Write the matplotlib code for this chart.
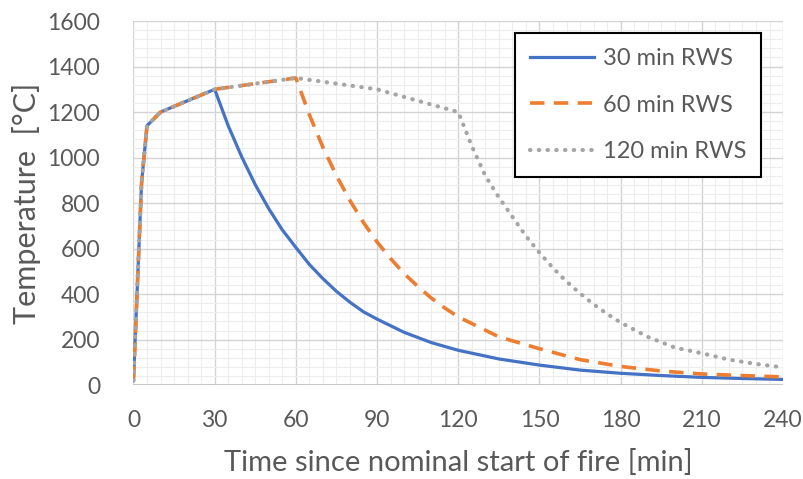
import matplotlib.pyplot as plt
from matplotlib.ticker import MultipleLocator
import numpy as np

plt.rcParams['font.family'] = ['Lato', 'DejaVu Sans']

# RWS heating curve (shared part)
t_heat = [0, 3, 5, 10, 30]
T_heat = [20, 890, 1140, 1200, 1300]

# 30 min RWS - cooling after 30 min
t30 = t_heat + [35, 40, 45, 50, 55, 60, 65, 70, 75, 80, 85, 90, 100, 110, 120,
                135, 150, 165, 180, 195, 210, 225, 240]
T30 = T_heat + [1140, 1003, 881, 775, 682, 605, 530, 468, 412, 364, 322, 290, 232, 187, 153,
                115, 88, 66, 52, 42, 34, 29, 25]

# 60 min RWS
t60 = t_heat + [60, 65, 70, 75, 80, 85, 90, 95, 100, 105, 110, 115, 120,
                135, 150, 165, 180, 195, 210, 225, 240]
T60 = T_heat + [1350, 1188, 1045, 920, 811, 714, 629, 556, 490, 434, 383, 339, 300,
                212, 160, 112, 82, 62, 49, 42, 36]

# 120 min RWS
t120 = t_heat + [60, 90, 120, 125, 130, 135, 140, 145, 150, 155, 160, 165, 170, 175, 180,
                 190, 200, 210, 220, 230, 240]
T120 = T_heat + [1350, 1300, 1200, 1050, 920, 825, 740, 655, 582, 515, 455, 403, 355, 313, 275,
                 212, 165, 140, 112, 93, 78]

fig = plt.figure(figsize=(8.04, 4.79), dpi=100)
ax = fig.add_axes([0.166, 0.196, 0.808, 0.760])

ax.plot(t30, T30, color='#4472C4', lw=2.3, label='30 min RWS', zorder=3)
ax.plot(t60, T60, color='#ED7D31', lw=2.6, ls=(0, (4, 2.6)), label='60 min RWS', zorder=4)
ax.plot(t120, T120, color='#A5A5A5', lw=3.0, ls=(0, (0.1, 2.0)),
        dash_capstyle='round', label='120 min RWS', zorder=5)

ax.set_xlim(0, 240)
ax.set_ylim(0, 1600)
ax.xaxis.set_major_locator(MultipleLocator(30))
ax.xaxis.set_minor_locator(MultipleLocator(5))
ax.yaxis.set_major_locator(MultipleLocator(200))
ax.yaxis.set_minor_locator(MultipleLocator(40))
ax.grid(which='major', color='#d4d4d4', lw=1.0, zorder=1)
ax.grid(which='minor', color='#ededed', lw=0.8, zorder=0)
ax.set_axisbelow(True)
for s in ax.spines.values():
    s.set_visible(False)
ax.axhline(0, color='#bfbfbf', lw=1.2, zorder=2)

ax.tick_params(which='both', length=0, labelsize=16.5, labelcolor='#595959')
ax.tick_params(axis='y', pad=24)
ax.tick_params(axis='x', pad=18)

ax.set_xlabel('Time since nominal start of fire [min]', fontsize=21, color='#595959')
ax.set_ylabel('Temperature  [°C]', fontsize=22, color='#595959')
ax.xaxis.set_label_coords(0.5, -0.175)
ax.yaxis.set_label_coords(-0.143, 0.5)

leg = ax.legend(loc='upper left', bbox_to_anchor=(0.588, 0.966), fontsize=17,
                frameon=True, fancybox=False, edgecolor='black', framealpha=1,
                handlelength=2.7, handletextpad=0.4, labelspacing=1.08,
                borderpad=0.62, borderaxespad=0)
leg.get_frame().set_linewidth(1.5)
for txt in leg.get_texts():
    txt.set_color('#595959')

fig.savefig('out.png', dpi=100)
